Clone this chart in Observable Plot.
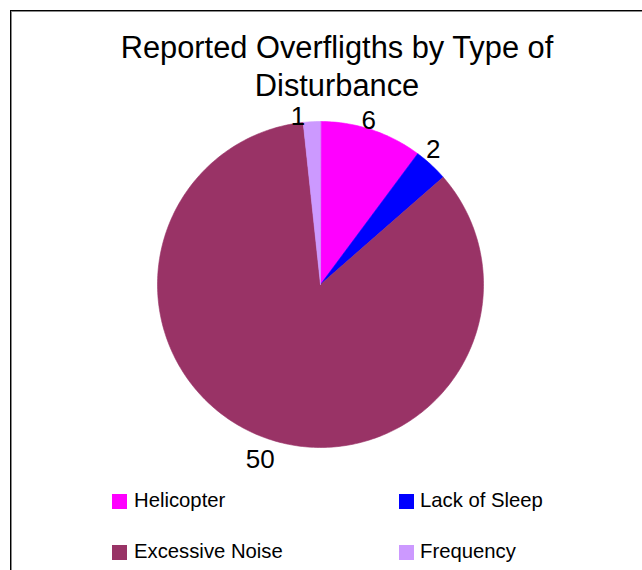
<!DOCTYPE html>
<html><head><meta charset="utf-8">
<script src="https://cdn.jsdelivr.net/npm/d3@7"></script>
<script src="https://cdn.jsdelivr.net/npm/@observablehq/plot@0.6"></script>
<style>
body{margin:0;background:#fff;font-family:"Liberation Sans",Arial,sans-serif;}
#wrap{position:relative;width:642px;height:570px;overflow:hidden;background:#fff;}
#frame{position:absolute;left:10px;top:10px;width:700px;height:700px;border:1px solid #000;box-shadow:inset 1px 1px 0 #8a8a8a;pointer-events:none;z-index:5;}
#wrap svg{position:absolute;left:0;top:0;}
.title{position:absolute;left:0;width:674px;text-align:center;font-size:30.8px;line-height:28px;color:#000;white-space:nowrap;}
.leg{position:absolute;font-size:20.3px;line-height:20px;color:#000;white-space:pre;}
.sw{position:absolute;width:15px;height:15px;}
</style></head><body><div id="wrap"><div id="frame"></div></div>
<script>
const categories = ["Helicopter", "Lack of Sleep", "Excessive Noise", "Frequency"];
const values = [6, 2, 50, 1];
const colors = ["#FF00FF", "#0000FF", "#993366", "#CC99FF"];
const titleLines = ["Reported Overfligths by Type of", "Disturbance"];

// layout (not data)
const cx = 320, cy = 284, r = 163;
const labelRadius = 1.1;
const labelNudge = [[-8, 6], [-9, -3], [5, 8], [-13, 11]]; // px
const legendPos = [[112, 494], [399, 494], [112, 545], [399, 545]];
const titleBaselines = [59, 97];

const arcs = d3.pie().sort(null).value(d => d.value)(categories.map((c, i) => ({key: c, value: values[i]})));
const pts = [];
for (const a of arcs) {
  const n = Math.max(2, Math.ceil((a.endAngle - a.startAngle) / (Math.PI / 180)));
  pts.push({key: a.data.key, x: 0, y: 0});
  for (let k = 0; k <= n; k++) {
    const t = a.startAngle + (a.endAngle - a.startAngle) * k / n;
    pts.push({key: a.data.key, x: Math.sin(t), y: Math.cos(t)});
  }
}
const labels = arcs.map((a, i) => {
  const m = (a.startAngle + a.endAngle) / 2;
  return {
    text: String(a.data.value),
    x: labelRadius * Math.sin(m) + labelNudge[i][0] / r,
    y: labelRadius * Math.cos(m) - labelNudge[i][1] / r
  };
});

const chart = Plot.plot({
  width: 642, height: 570, margin: 0,
  style: {background: "transparent", fontFamily: "Liberation Sans, Arial, sans-serif"},
  x: {domain: [-1, 1], range: [cx - r, cx + r], axis: null},
  y: {domain: [-1, 1], range: [cy + r, cy - r], axis: null},
  color: {domain: categories, range: colors},
  marks: [
    Plot.line(pts, {x: "x", y: "y", z: "key", fill: "key", stroke: "key", strokeWidth: 0.6, curve: "linear-closed"}),
    Plot.text(labels, {x: "x", y: "y", text: "text", fontSize: 26, fill: "#000"})
  ]
});
const wrap = document.getElementById("wrap");
wrap.appendChild(chart);

titleLines.forEach((line, i) => {
  const t = document.createElement("div");
  t.className = "title";
  t.style.top = (titleBaselines[i] - 25) + "px";
  t.textContent = line;
  wrap.appendChild(t);
});

categories.forEach((c, i) => {
  const [lx, ly] = legendPos[i];
  const s = document.createElement("div");
  s.className = "sw";
  s.style.left = lx + "px"; s.style.top = ly + "px"; s.style.background = colors[i];
  wrap.appendChild(s);
  const l = document.createElement("div");
  l.className = "leg";
  l.style.left = (lx + (i % 2 ? 21 : 22)) + "px"; l.style.top = (ly - 4) + "px";
  l.textContent = c;
  wrap.appendChild(l);
});
</script></body></html>
